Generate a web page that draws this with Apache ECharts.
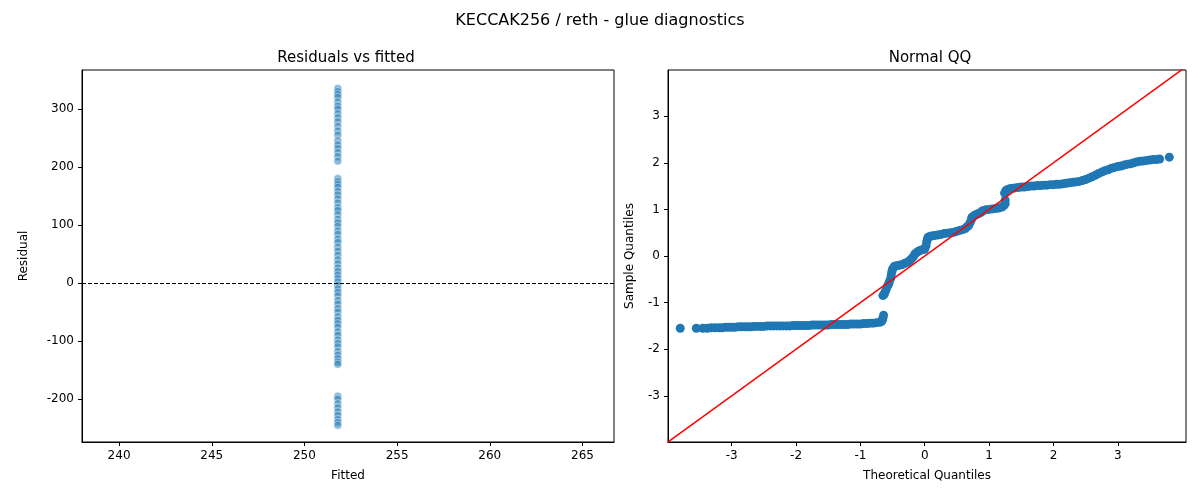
<!DOCTYPE html>
<html><head><meta charset="utf-8">
<script src="https://cdn.jsdelivr.net/npm/echarts@6/dist/echarts.min.js"></script>
<style>html,body{margin:0;padding:0;background:#fff}#c{width:1200px;height:500px}</style>
</head><body><div id="c"></div>
<script>
const fittedValue = 251.8;
const residuals = [335,330,325,320,312,305,300,292,285,278,270,262,255,245,238,232,225,218,210,
  180,175,170,165,158,152,145,138,130,125,118,110,104,98,90,84,76,70,62,55,48,40,33,26,20,14,8,2,-4,-10,-16,-22,-30,-36,-44,-50,-58,-64,-70,-76,-84,-90,-98,-104,-110,-118,-124,-130,-136,-140,
  -195,-200,-208,-215,-222,-228,-235,-240,-245];
const qqTheo = [-3.80,-3.55,-3.45,-3.38,-3.32,-3.26,-3.20,-3.15,-3.10,-3.05,-3.0,-2.95,-2.9,-2.85,-2.8,-2.75,-2.7,-2.65,-2.6,-2.55,-2.5,-2.45,-2.4,-2.35,-2.3,-2.25,-2.2,-2.15,-2.1,-2.05,-2.0,-1.95,-1.9,-1.85,-1.8,-1.75,-1.7,-1.65,-1.6,-1.55,-1.5,-1.45,-1.4,-1.35,-1.3,-1.25,-1.2,-1.15,-1.1,-1.05,-1.0,-0.95,-0.9,-0.85,-0.8,-0.75,-0.7,-0.67,-0.66,-0.65,-0.64,-0.65,-0.63,-0.62,-0.6,-0.58,-0.56,-0.55,-0.53,-0.52,-0.51,-0.5,-0.48,-0.47,-0.44,-0.4,-0.36,-0.33,-0.3,-0.26,-0.23,-0.2,-0.17,-0.15,-0.12,-0.1,-0.07,-0.05,-0.02,0.0,0.02,0.03,0.04,0.05,0.08,0.1,0.15,0.2,0.25,0.3,0.35,0.4,0.45,0.5,0.55,0.6,0.63,0.65,0.68,0.7,0.72,0.73,0.75,0.78,0.82,0.85,0.88,0.9,0.95,1.0,1.05,1.1,1.15,1.2,1.23,1.25,1.25,1.24,1.26,1.28,1.32,1.35,1.4,1.45,1.5,1.55,1.6,1.65,1.7,1.75,1.8,1.85,1.9,1.95,2.0,2.05,2.1,2.15,2.2,2.25,2.3,2.35,2.4,2.45,2.5,2.55,2.6,2.65,2.7,2.75,2.8,2.85,2.9,2.95,3.0,3.05,3.1,3.15,3.2,3.25,3.3,3.35,3.4,3.45,3.5,3.55,3.6,3.65,3.8];
const qqSample = [-1.55,-1.55,-1.55,-1.55,-1.54,-1.54,-1.54,-1.54,-1.53,-1.53,-1.53,-1.53,-1.52,-1.52,-1.52,-1.52,-1.52,-1.51,-1.51,-1.51,-1.51,-1.5,-1.5,-1.5,-1.5,-1.5,-1.5,-1.5,-1.5,-1.49,-1.49,-1.49,-1.49,-1.49,-1.49,-1.48,-1.48,-1.48,-1.48,-1.48,-1.48,-1.47,-1.47,-1.47,-1.47,-1.47,-1.47,-1.46,-1.46,-1.46,-1.46,-1.45,-1.45,-1.44,-1.44,-1.43,-1.42,-1.4,-1.38,-1.33,-1.27,-0.85,-0.82,-0.78,-0.72,-0.65,-0.6,-0.55,-0.48,-0.4,-0.33,-0.28,-0.24,-0.22,-0.21,-0.2,-0.19,-0.17,-0.15,-0.13,-0.09,-0.05,0.0,0.05,0.08,0.1,0.12,0.13,0.14,0.15,0.22,0.3,0.36,0.4,0.42,0.43,0.44,0.45,0.46,0.48,0.49,0.5,0.51,0.53,0.55,0.57,0.59,0.62,0.65,0.7,0.76,0.82,0.85,0.88,0.9,0.92,0.94,0.97,0.99,1.0,1.01,1.02,1.03,1.05,1.08,1.12,1.2,1.35,1.4,1.42,1.44,1.45,1.46,1.47,1.48,1.48,1.49,1.5,1.5,1.51,1.51,1.52,1.52,1.53,1.53,1.54,1.54,1.55,1.56,1.57,1.58,1.59,1.6,1.62,1.64,1.67,1.7,1.73,1.77,1.8,1.83,1.85,1.88,1.9,1.92,1.93,1.95,1.97,1.98,2.0,2.02,2.03,2.04,2.05,2.06,2.07,2.07,2.08,2.12];
const resTicks = [-200,-100,0,100,200,300];
const fitTicks = [240,245,250,255,260,265];
const qqTicks = [-3,-2,-1,0,1,2,3];

const chart = echarts.init(document.getElementById('c'));
const lab = {color:'#000',fontSize:12,fontFamily:'DejaVu Sans'};
const ax = (o)=>Object.assign({axisLine:{show:true,onZero:false,lineStyle:{color:'#000'}},splitLine:{show:false},nameTextStyle:lab},o);
const tick = (v)=>({show:true,length:4,customValues:v,lineStyle:{color:'#000'}});
chart.setOption({
  animation:false,
  textStyle:{fontFamily:'DejaVu Sans'},
  title:[
    {text:'KECCAK256 / reth - glue diagnostics',left:'center',top:8,textStyle:{fontSize:16,fontWeight:'normal',color:'#000'}},
    {text:'Residuals vs fitted',left:341,textAlign:'center',top:46,textStyle:{fontSize:15,fontWeight:'normal',color:'#000'}},
    {text:'Normal QQ',left:925,textAlign:'center',top:46,textStyle:{fontSize:15,fontWeight:'normal',color:'#000'}}
  ],
  grid:[
    {left:82,right:586,top:70,bottom:58,show:true,borderColor:'#000',borderWidth:1},
    {left:668,right:14,top:70,bottom:58,show:true,borderColor:'#000',borderWidth:1}
  ],
  xAxis:[
    ax({gridIndex:0,type:'value',min:238,max:266.7,name:'Fitted',nameLocation:'middle',nameGap:28,
      axisLabel:Object.assign({customValues:fitTicks},lab),axisTick:tick(fitTicks)}),
    ax({gridIndex:1,type:'value',min:-3.99,max:4.06,name:'Theoretical Quantiles',nameLocation:'middle',nameGap:28,
      axisLabel:Object.assign({customValues:qqTicks},lab),axisTick:tick(qqTicks)})
  ],
  yAxis:[
    ax({gridIndex:0,type:'value',min:-274,max:367,name:'Residual',nameLocation:'middle',nameGap:52,
      axisLabel:Object.assign({customValues:resTicks},lab),axisTick:tick(resTicks)}),
    ax({gridIndex:1,type:'value',min:-3.99,max:3.99,name:'Sample Quantiles',nameLocation:'middle',nameGap:32,
      axisLabel:Object.assign({customValues:qqTicks},lab),axisTick:tick(qqTicks)})
  ],
  series:[
    {type:'scatter',xAxisIndex:0,yAxisIndex:0,symbolSize:8,
      itemStyle:{color:'rgba(31,119,180,0.65)',borderColor:'#fff',borderWidth:0.6},
      data:residuals.map(r=>[fittedValue,r]),
      markLine:{silent:true,symbol:'none',label:{show:false},lineStyle:{color:'#000',type:'dashed',width:1},data:[{yAxis:0}]}},
    {type:'scatter',xAxisIndex:1,yAxisIndex:1,symbolSize:9,itemStyle:{color:'#1f77b4',opacity:1},
      data:qqTheo.map((t,i)=>[t,qqSample[i]])},
    {type:'line',xAxisIndex:1,yAxisIndex:1,symbol:'none',clip:true,lineStyle:{color:'#ff0000',width:1.5},
      data:[[-5,-5],[5,5]]}
  ]
});
</script></body></html>
